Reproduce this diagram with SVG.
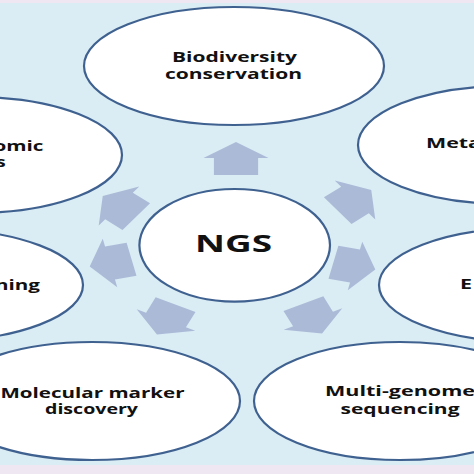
<svg xmlns="http://www.w3.org/2000/svg" width="474" height="474" viewBox="0 0 474 474">
<defs>
<style>
.node ellipse{fill:#ffffff;stroke:#3f6190;stroke-width:2.2}
.t{font-family:"Open Sans","Liberation Sans",sans-serif;font-weight:700;font-size:15px;fill:#111111}
.m{text-anchor:middle}
.e{text-anchor:end}
.arrow{fill:#abbad7}
</style>
<path id="arr" d="M16,0 L0,-25 L0,-17 L-17,-17 L-17,17 L0,17 L0,25 Z"/>
</defs>
<rect x="0" y="0" width="474" height="474" fill="#efe7f2"/>
<rect x="0" y="3" width="474" height="462" fill="#daecf4"/>
<g id="connectors" class="arrow">
<use href="#arr" transform="translate(236,158) scale(1.3,1) rotate(-90)"/>
<use href="#arr" transform="translate(355,200) scale(1.3,1) rotate(-38.6)"/>
<use href="#arr" transform="translate(355,266) scale(1.3,1) rotate(12.9)"/>
<use href="#arr" transform="translate(313,319) scale(1.3,1) rotate(64.3)"/>
<use href="#arr" transform="translate(166,320) scale(1.3,1) rotate(115.7)"/>
<use href="#arr" transform="translate(110,263) scale(1.3,1) rotate(167.1)"/>
<use href="#arr" transform="translate(119,206) scale(1.3,1) rotate(218.6)"/>
</g>
<g id="node-biodiversity" class="node">
<ellipse cx="234" cy="66" rx="150" ry="59"/>
<text class="t m" x="234.5" y="62" textLength="125" lengthAdjust="spacingAndGlyphs">Biodiversity</text>
<text class="t m" x="233.5" y="79" textLength="137" lengthAdjust="spacingAndGlyphs">conservation</text>
</g>
<g id="node-meta" class="node">
<ellipse cx="506" cy="145" rx="148" ry="59"/>
<text class="t" x="426" y="148" textLength="55" lengthAdjust="spacingAndGlyphs">Meta</text>
</g>
<g id="node-e" class="node">
<ellipse cx="527" cy="285" rx="148" ry="57"/>
<text class="t" x="460" y="289" textLength="12" lengthAdjust="spacingAndGlyphs">E</text>
</g>
<g id="node-multigenome" class="node">
<ellipse cx="400" cy="401" rx="146" ry="59"/>
<text class="t m" x="400" y="396" textLength="150" lengthAdjust="spacingAndGlyphs">Multi-genome</text>
<text class="t m" x="400" y="414" textLength="119" lengthAdjust="spacingAndGlyphs">sequencing</text>
</g>
<g id="node-molecular" class="node">
<ellipse cx="92" cy="401" rx="148" ry="59"/>
<text class="t m" x="92.5" y="397.5" textLength="184" lengthAdjust="spacingAndGlyphs">Molecular marker</text>
<text class="t m" x="91.5" y="414" textLength="93" lengthAdjust="spacingAndGlyphs">discovery</text>
</g>
<g id="node-ning" class="node">
<ellipse cx="-65" cy="285" rx="148" ry="56"/>
<text class="t e" x="40" y="290" textLength="45" lengthAdjust="spacingAndGlyphs">ning</text>
</g>
<g id="node-omic" class="node">
<ellipse cx="-26" cy="155" rx="148" ry="58"/>
<text class="t e" x="43.5" y="151" textLength="50" lengthAdjust="spacingAndGlyphs">omic</text>
<text class="t e" x="5.7" y="167" textLength="10" lengthAdjust="spacingAndGlyphs">s</text>
</g>
<g id="node-ngs" class="node">
<ellipse cx="234.7" cy="245.3" rx="95.3" ry="56.3"/>
<text class="t m" x="233.5" y="252" style="font-size:23px" textLength="77" lengthAdjust="spacingAndGlyphs">NGS</text>
</g>
</svg>
